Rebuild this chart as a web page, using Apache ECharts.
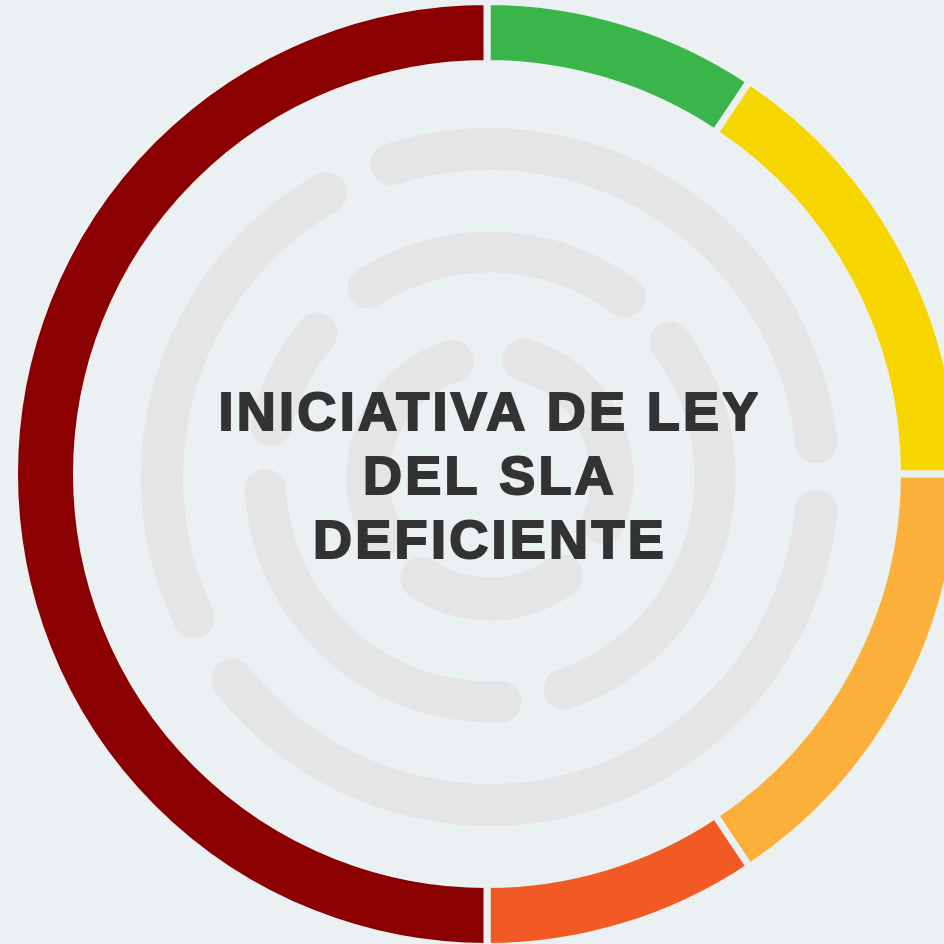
<!DOCTYPE html>
<html>
<head>
<meta charset="utf-8">
<script src="https://cdn.jsdelivr.net/npm/echarts@6/dist/echarts.min.js"></script>
<style>
  html, body { margin: 0; padding: 0; background: #ebf0f2; }
  #chart { width: 944px; height: 944px; }
</style>
</head>
<body>
<div id="chart"></div>
<script>
// ---- data ----
const titleLines = ['INICIATIVA DE LEY', 'DEL SLA', 'DEFICIENTE'];
const segNames = ['Verde', 'Amarillo', 'Naranja', 'Rojo', 'Rojo oscuro'];
const segValues = [3, 5, 5, 3, 16];
// decorative grey arcs: [start, end] in degrees clockwise from 12 o'clock
const outerArcs = [[-21.2, 87.6], [92.2, 235.5], [241, 333.7]];
const middleArcs = [[-38, 42], [48, 166], [172, 272], [278, 315]];
const innerArcs = [[6, 122], [134, 224], [232, 352]];

// ---- styles ----
const BG = '#ebf0f2';
const GREY = '#e5e5e5';
const segColors = ['#39b54a', '#f7d600', '#fbb03b', '#f15a24', '#8b0000'];
const CX = 487, CY = 474;      // main ring centre
const DX = 490, DY = 477;      // decorative rings centre

// letter spacing for title text
['fillText', 'strokeText'].forEach(function (fn) {
  const orig = CanvasRenderingContext2D.prototype[fn];
  CanvasRenderingContext2D.prototype[fn] = function () {
    this.letterSpacing = '3.3px';
    return orig.apply(this, arguments);
  };
});

function arcRing(arcs, rMid, width) {
  const data = [];
  const start = arcs[0][0];
  arcs.forEach(function (a, i) {
    const next = i < arcs.length - 1 ? arcs[i + 1][0] : start + 360;
    data.push({ value: a[1] - a[0], itemStyle: { color: GREY } });
    data.push({ value: next - a[1], itemStyle: { color: 'rgba(0,0,0,0)' } });
  });
  return {
    type: 'pie',
    center: [DX, DY],
    radius: [rMid - width / 2, rMid + width / 2],
    startAngle: 90 - start,
    clockwise: true,
    silent: true,
    animation: false,
    label: { show: false },
    labelLine: { show: false },
    emphasis: { disabled: true },
    itemStyle: { borderRadius: width / 2 },
    data: data
  };
}

const chart = echarts.init(document.getElementById('chart'), null, { renderer: 'canvas' });
chart.setOption({
  backgroundColor: BG,
  animation: false,
  title: {
    text: titleLines.join('\n'),
    left: 490,
    top: 383,
    textAlign: 'center',
    padding: 0,
    textStyle: {
      fontFamily: 'Liberation Sans',
      fontWeight: 'bold',
      fontSize: 54,
      lineHeight: 64,
      color: '#333333',
      textBorderColor: '#333333',
      textBorderWidth: 2
    }
  },
  series: [
    arcRing(outerArcs, 328, 42),
    arcRing(middleArcs, 225, 41),
    arcRing(innerArcs, 122, 43),
    {
      type: 'pie',
      center: [CX, CY],
      radius: [410.5, 472.5],
      startAngle: 90,
      clockwise: true,
      silent: true,
      animation: false,
      label: { show: false },
      labelLine: { show: false },
      emphasis: { disabled: true },
      itemStyle: { borderColor: BG, borderWidth: 7 },
      data: segNames.map(function (n, i) {
        return { name: n, value: segValues[i], itemStyle: { color: segColors[i] } };
      })
    }
  ]
});
</script>
</body>
</html>
